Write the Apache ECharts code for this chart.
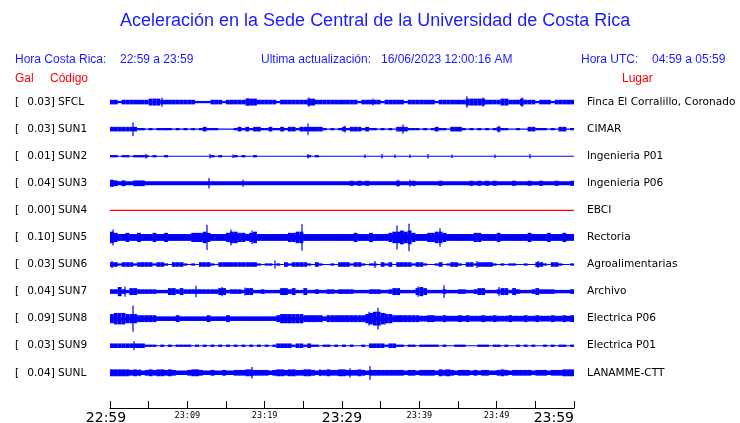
<!DOCTYPE html>
<html><head><meta charset="utf-8">
<script src="https://cdn.jsdelivr.net/npm/echarts/dist/echarts.min.js"></script>
<style>html,body{margin:0;padding:0;background:#fff}#c{width:740px;height:423px}</style>
</head><body><div id="c"></div>
<script>
// ---- data ----
const codes = ['SFCL','SUN1','SUN2','SUN3','SUN4','SUN5','SUN6','SUN7','SUN8','SUN9','SUNL'];
const places = ['Finca El Corralillo, Coronado','CIMAR','Ingenieria P01','Ingenieria P06','EBCI','Rectoria','Agroalimentarias','Archivo','Electrica P06','Electrica P01','LANAMME-CTT'];
const gal = ['0.03','0.03','0.01','0.04','0.00','0.10','0.03','0.04','0.09','0.03','0.04'];
const tickMinutes = [0,10,20,30,40,50,60];
const tickLabels = ['22:59','23:09','23:19','23:29','23:39','23:49','23:59'];
// noise floor (relative amplitude) of each trace
const baseAmp = [0.5,0.5,0.5,1.8,0.5,2.5,0.5,1,1.5,0.5,2];
// envelope per 30-second bin (relative amplitude), 120 bins = 60 min
const envSFCL = [2,2,1,2,2,2,2,2,2,2, 3,3,3,2,2,2,2,2,2,2, 2,2,1,1,1,1,2,2,2,1, 2,2,2,2,2,3,3,3,2,2, 2,2,2,1,2,2,2,2,2,2, 2,3,3,2,2,2,2,2,2,2,
  2,2,2,2,1,2,2,2,2,2, 1,2,2,2,2,2,1,2,2,2, 2,2,2,2,1,2,2,2,2,2, 2,2,3,3,3,3,3,2,2,2, 2,3,3,2,2,2,3,2,2,2, 1,2,2,2,1,2,2,2,2,2];
const envSUN1 = [2,2,2,2,2,2,2,1,1,0, 1,0,1,1,1,1,0,1,0,1, 0,1,0,1,2,1,1,1,0,0, 0,0,1,2,1,2,1,2,2,1, 1,2,1,1,2,1,2,2,1,2, 2,2,2,2,2,1,0,1,0,1,
  2,1,2,2,2,1,2,1,1,0, 1,0,1,0,2,2,2,1,1,1, 0,1,0,1,2,1,1,0,2,2, 2,1,0,1,0,1,0,1,0,1, 2,1,1,0,0,1,0,0,2,2, 1,1,1,0,1,0,2,2,0,1];
const envSUN2 = [1,1,0,1,1,0,1,1,1,1, 0,1,0,0,1,0,0,0,0,0, 0,0,0,0,0,0,1,0,1,0, 0,0,1,0,1,0,0,1,0,0, 0,0,0,0,0,0,0,0,0,0, 0,1,0,1,0,0,0,0,0,0,
  0,0,0,0,0,0,0,0,0,0, 0,0,0,0,0,0,0,0,0,0, 0,0,0,0,0,0,0,0,0,0, 0,0,0,0,0,0,0,0,0,0, 0,0,0,0,0,0,0,0,0,0, 0,0,0,0,0,0,0,0,0,0];
const envSUN3 = [3,2.5,0,2.5,0,0,2.5,2.5,2.5,0, 0,0,0,0,0,0,0,0,0,0, 0,0,0,0,0,0,0,0,0,0, 0,0,0,0,0,0,0,0,0,0, 0,0,0,0,0,0,0,0,0,0, 0,0,0,0,0,0,0,0,0,0,
  0,0,2.2,0,2.2,0,2.2,0,0,0, 0,0,0,0,2.2,0,0,0,2.2,0, 0,0,0,0,0,2.2,0,0,0,0, 0,0,0,2.2,0,2.2,0,2.2,0,2.2, 0,0,0,0,2.2,0,0,0,2.2,0, 0,2.2,0,0,0,2.2,0,0,0,2.2];
const envSUN4 = [0,0,0,0,0,0,0,0,0,0, 0,0,0,0,0,0,0,0,0,0, 0,0,0,0,0,0,0,0,0,0, 0,0,0,0,0,0,0,0,0,0, 0,0,0,0,0,0,0,0,0,0, 0,0,0,0,0,0,0,0,0,0,
  0,0,0,0,0,0,0,0,0,0, 0,0,0,0,0,0,0,0,0,0, 0,0,0,0,0,0,0,0,0,0, 0,0,0,0,0,0,0,0,0,0, 0,0,0,0,0,0,0,0,0,0, 0,0,0,0,0,0,0,0,0,0];
const envSUN5 = [5,4,3,3,4,3,3,4,3,3, 3,4,3,3,4,3,3,3,3,3, 3,4,4,4,5,4,3,3,3,3, 4,5,5,4,4,3,4,5,3,3, 3,3,3,3,3,3,4,4,5,5, 3,3,3,3,3,3,3,3,3,3,
  3,3,3,4,3,3,3,4,3,3, 3,3,4,5,5,6,5,6,4,3, 3,3,4,4,5,5,4,3,3,3, 3,3,3,3,4,4,3,3,3,3, 4,3,3,3,3,3,3,3,4,3, 3,3,3,4,3,3,3,4,3,3];
const envSUN6 = [2,2,1,2,2,2,1,2,2,2, 2,1,2,2,1,0,2,2,2,1, 0,1,0,2,2,2,1,0,2,2, 2,2,2,2,2,2,2,2,1,0, 1,1,0,1,0,2,1,2,2,2, 2,1,0,2,1,0,0,1,0,2,
  2,2,1,2,2,1,0,1,1,0, 2,1,2,0,2,2,2,2,1,2, 2,1,0,0,1,2,0,1,2,2, 1,0,2,2,1,2,2,2,2,1, 0,1,0,1,1,0,0,1,0,0, 2,2,1,0,2,2,1,0,0,1];
const envSUN7 = [2,2,4,2,1.5,3,3,2,2,2, 2,2,1.5,1.5,1.5,3,3,2,3,2, 2,2,2,2,2,2,2,2,3,3, 1.5,2,2,2,1.5,3,3,1.5,1.5,2, 1.5,1.5,1.5,1.5,3,3,2,3,1.5,1.5, 3,1.5,1.5,2,1.5,1.5,2,2,1.5,2,
  2,2,2,1.5,1.5,1.5,1.5,2,2,2, 1.5,1.5,2,3,3,1.5,1.5,1.5,1.5,3, 4,3,1.5,1.5,1.5,1.5,2,1.5,1.5,1.5, 2,2,1.5,1.5,2,3,3,1.5,1.5,1.5, 2,3,3,1.5,3,2,1.5,1.5,1.5,2, 3,2,2,2,2,1.5,1.5,1.5,1.5,2];
const envSUN8 = [4,5,5,5,4,4,4,3,3,3, 3,3,2,2,2,2,2,3,2,2, 2,2,2,2,2,3,2,2,2,2, 3,2,2,2,2,2,2,2,2,2, 2,2,2,3,4,4,4,4,4,4, 3,3,3,3,3,2,3,3,3,3,
  3,3,3,3,3,3,4,5,6,6, 5,4,4,3,3,3,3,3,3,3, 2.5,2.5,3,3,2.5,2.5,3,2.5,2.5,2.5, 3,2.5,3,2.5,2.5,2.5,3,2.5,2.5,3, 2.5,2.5,2.5,3,2.5,2.5,2.5,3,2.5,2.5, 3,2.5,2.5,2.5,3,2.5,2.5,3,2.5,3];
const envSUN9 = [2,2,2,2,2,2,2,2,2,1, 1,1,0,1,0,1,0,1,1,1, 1,0,1,0,1,0,1,0,1,0, 1,0,1,0,1,0,1,0,1,0, 1,0,1,2,2,2,2,1,2,2, 1,2,1,1,0,1,1,0,1,0,
  1,0,1,0,0,1,0,2,2,2, 2,1,2,2,1,1,0,1,1,0, 1,1,1,1,1,0,1,0,0,1, 1,1,0,0,0,1,1,1,0,1, 1,0,1,0,0,1,0,1,0,1, 0,0,1,0,1,0,1,1,0,1];
const envSUNL = [3,3,3,3,3,2.5,3,2.5,2,2.5, 3,2.5,3,3,2.5,3,2.5,2,2,2, 2.5,3,3,2.5,2,2,2.5,2,2,2.5, 2,2,2.5,2.5,2.5,3,3,2.5,2.5,2.5, 2.5,2,2.5,3,3,2.5,3,3,2.5,2.5, 3,3,2.5,2,2.5,2.5,3,2.5,2.5,3,
  3,2.5,2.5,2.5,3,2.5,2,2.5,2.5,2.5, 2.5,2.5,2.5,2.5,2.5,2.5,2,2.5,2.5,2, 2.5,2.5,2.5,2.5,2,3,2.5,3,2.5,2, 2.5,2.5,2.5,2,2.5,2,2.5,2.5,2,2, 2.5,3,2.5,2,2.5,2.5,2.5,2.5,2.5,2, 2.5,2.5,2.5,2,2.5,2.5,2.5,3,3,3];
// isolated peaks: [minute, relative amplitude]
const pkSFCL = [[6.7,4],[17.8,3.5],[25.7,4],[34,3],[46.2,5],[48.2,4],[53.3,4]];
const pkSUN1 = [[3.0,6],[25.6,5],[30.4,3],[37.9,4],[50.3,3]];
const pkSUN2 = [[4.7,2],[12.9,2],[15.9,1.5],[25.6,2],[33,1.5],[35.2,2],[36.9,1.5],[38.8,1.5],[41.1,2],[44.2,1.5],[49.8,1.5],[54.3,2]];
const pkSUN3 = [[0.2,3],[12.8,4.5],[17.2,3],[37.3,3],[38.8,3]];
const pkSUN4 = [];
const pkSUN5 = [[0.4,7],[12.5,11],[15.7,7],[18.3,6],[24.8,11.5],[37.1,10.5],[38.6,12],[42.7,8]];
const pkSUN6 = [[0.3,3],[21.3,3.5],[34.3,3],[47.5,3],[55.3,3]];
const pkSUN7 = [[2.0,4.5],[11.1,5],[14.5,4],[17.5,3.5],[39.8,4.5],[43.2,5.5],[50.3,4]];
const pkSUN8 = [[3.0,11.5],[33.5,6],[34.6,9.5],[35.5,5]];
const pkSUN9 = [[3.1,4]];
const pkSUNL = [[3.9,3],[18.4,5],[27.2,3],[31,4],[33.6,6],[43.5,3]];

const envs = [envSFCL,envSUN1,envSUN2,envSUN3,envSUN4,envSUN5,envSUN6,envSUN7,envSUN8,envSUN9,envSUNL];
const peaks = [pkSFCL,pkSUN1,pkSUN2,pkSUN3,pkSUN4,pkSUN5,pkSUN6,pkSUN7,pkSUN8,pkSUN9,pkSUNL];

// ---- chart ----
const BLUE = '#0000ff', RED = '#ff0000';
const AMP = 1.15/27.1;    // y-axis units per relative amplitude unit
const BIN = 0.5;          // minutes per envelope bin
const LABEL_FS = 10.6;
const chart = echarts.init(document.getElementById('c'), null, {renderer:'canvas'});

const series = codes.map((code, i) => {
  const color = parseFloat(gal[i]) === 0 ? RED : BLUE;
  const rows = [[0, 60, baseAmp[i]]];
  envs[i].forEach((a, k) => { if (a > baseAmp[i]) rows.push([k*BIN, (k+1)*BIN, a]); });
  peaks[i].forEach(p => rows.push([p[0], p[0], p[1]]));
  return {
    type: 'custom', name: code, data: rows, silent: true, animation: false, clip: false,
    encode: {x: [0, 1], y: 2},
    renderItem: (params, api) => {
      const t0 = api.value(0), t1 = api.value(1), a = api.value(2);
      const pa = api.coord([t0, i - a*AMP]), pb = api.coord([t1, i + a*AMP]);
      let x = pa[0], w = pb[0] - pa[0];
      if (w < 1) { x = Math.round(x) - 0.6; w = 1.2; }
      const y = Math.min(pa[1], pb[1]);
      const h = Math.max(Math.abs(pb[1] - pa[1]), 1);
      return {type: 'rect', shape: {x: x, y: y, width: w, height: h}, style: {fill: color}};
    }
  };
});

const stationIndex = v => { const i = Math.round(v); return (Math.abs(v - i) < 1e-6 && i >= 0 && i < codes.length) ? i : -1; };
const headerBlue = '#1a1aff';
const txt = (text, left, top, color, size) => ({text, left, top, padding: 0,
  textStyle: {color, fontSize: size, fontWeight: 'normal', fontFamily: 'Liberation Sans'}});

chart.setOption({
  backgroundColor: '#fff',
  animation: false,
  title: [
    txt('Aceleración en la Sede Central de la Universidad de Costa Rica', 120, 12, headerBlue, 18),
    txt('Hora Costa Rica:', 15, 54, headerBlue, 12),
    txt('22:59 a 23:59', 120, 54, headerBlue, 12),
    txt('Ultima actualización:', 261, 54, headerBlue, 12),
    txt('16/06/2023 12:00:16 AM', 381, 54, headerBlue, 12),
    txt('Hora UTC:', 581, 54, headerBlue, 12),
    txt('04:59 a 05:59', 652, 54, headerBlue, 12),
    txt('Gal', 15, 73, RED, 12),
    txt('Código', 50, 73, RED, 12),
    txt('Lugar', 622, 73, RED, 12)
  ],
  grid: {left: 110, right: 166, top: 75, bottom: 15, containLabel: false, outerBoundsMode: 'none'},
  xAxis: {
    type: 'value', min: 0, max: 60, interval: 5,
    axisLine: {show: true, onZero: false, lineStyle: {color: '#000', width: 1}},
    axisTick: {show: true, inside: true, length: 7, lineStyle: {color: '#000', width: 1}},
    splitLine: {show: false},
    axisLabel: {
      margin: 3, showMinLabel: true, showMaxLabel: true, alignMaxLabel: 'right',
      formatter: v => {
        const j = tickMinutes.indexOf(v);
        if (j < 0) return '';
        if (v === 0) return '{first|' + tickLabels[j] + '}';
        return (v % 30 === 0 ? '{big|' : '{sm|') + tickLabels[j] + '}';
      },
      rich: {
        first: {fontSize: 14, fontFamily: 'DejaVu Sans', color: '#000', padding: [0, 8, 0, 0]},
        big: {fontSize: 14, fontFamily: 'DejaVu Sans', color: '#000'},
        sm: {fontSize: 8.5, fontFamily: 'DejaVu Sans Mono', color: '#000'}
      }
    }
  },
  yAxis: [
    {
      type: 'value', inverse: true, min: -1, max: 11.3, interval: 1, position: 'left',
      axisLine: {show: false}, axisTick: {show: false}, splitLine: {show: false},
      axisLabel: {
        margin: 95, align: 'left', fontFamily: 'DejaVu Sans', fontSize: LABEL_FS, color: '#000',
        formatter: v => { const i = stationIndex(v); return i < 0 ? '' : '{br|[}{v|' + gal[i] + ']}{c|' + codes[i] + '}'; },
        rich: {
          br: {width: 12, fontFamily: 'DejaVu Sans', fontSize: LABEL_FS, color: '#000'},
          v: {width: 28, align: 'right', fontFamily: 'DejaVu Sans', fontSize: LABEL_FS, color: '#000'},
          c: {padding: [0, 0, 0, 3], fontFamily: 'DejaVu Sans', fontSize: LABEL_FS, color: '#000'}
        }
      }
    },
    {
      type: 'value', inverse: true, min: -1, max: 11.3, interval: 1, position: 'right',
      axisLine: {show: false}, axisTick: {show: false}, splitLine: {show: false},
      axisLabel: {
        margin: 13, align: 'left', fontFamily: 'DejaVu Sans', fontSize: LABEL_FS, color: '#000',
        formatter: v => { const i = stationIndex(v); return i < 0 ? '' : places[i]; }
      }
    }
  ],
  series: series
});
</script>
</body></html>
